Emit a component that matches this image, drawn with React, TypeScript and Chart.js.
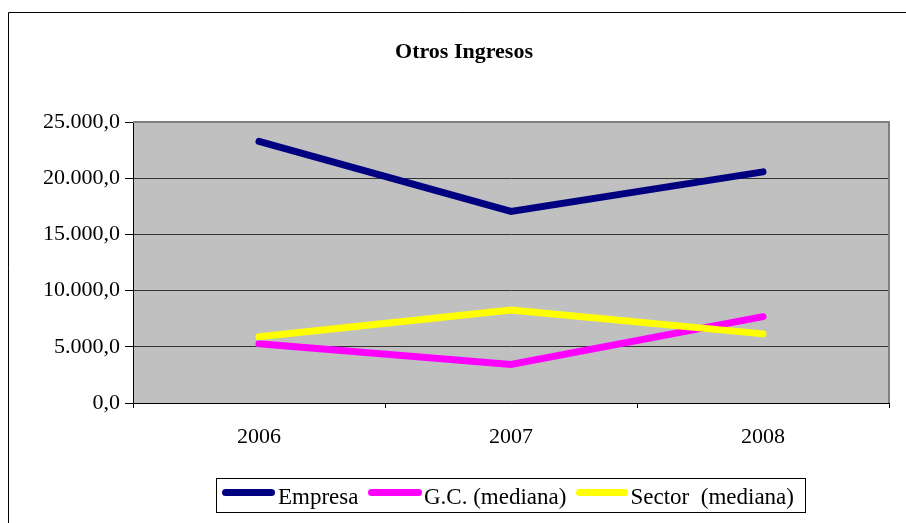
import React, { useEffect, useRef } from "react";
import { Chart, registerables } from "chart.js";

Chart.register(...registerables);

const categories = ["2006", "2007", "2008"];
const empresa = [23270, 17050, 20560];
const gcMediana = [5270, 3420, 7680];
const sectorMediana = [5890, 8270, 6150];
const seriesNames = ["Empresa", "G.C. (mediana)", "Sector  (mediana)"];
const seriesColors = ["#000080", "#FF00FF", "#FFFF00"];
const yTicks = [0, 5000, 10000, 15000, 20000, 25000];
const titleText = "Otros Ingresos";

const SERIF = "'Liberation Serif', 'Times New Roman', serif";

function fmt(v: number): string {
  const neg = v < 0;
  const s = Math.round(Math.abs(v)).toString();
  const parts: string[] = [];
  for (let i = s.length; i > 0; i -= 3) parts.unshift(s.slice(Math.max(0, i - 3), i));
  return (neg ? "-" : "") + parts.join(".") + ",0";
}

const framePlugin = {
  id: "framePlugin",
  beforeDraw(chart: any) {
    const { ctx, chartArea } = chart;
    ctx.save();
    ctx.fillStyle = "#FFFFFF";
    ctx.fillRect(0, 0, chart.width, chart.height);
    // outer border
    ctx.strokeStyle = "#000000";
    ctx.lineWidth = 1;
    ctx.beginPath();
    ctx.moveTo(8.5, chart.height + 2);
    ctx.lineTo(8.5, 12.5);
    ctx.lineTo(chart.width + 2, 12.5);
    ctx.stroke();
    // plot background
    ctx.fillStyle = "#C0C0C0";
    ctx.fillRect(chartArea.left, chartArea.top, chartArea.right - chartArea.left, chartArea.bottom - chartArea.top);
    // title
    ctx.fillStyle = "#000000";
    ctx.font = "bold 22px " + SERIF;
    ctx.textAlign = "center";
    ctx.textBaseline = "middle";
    ctx.fillText(titleText, 464, 52);
    ctx.restore();
  },
  beforeDatasetsDraw(chart: any) {
    const { ctx, chartArea } = chart;
    ctx.save();
    ctx.strokeStyle = "#808080";
    ctx.lineWidth = 2;
    ctx.beginPath();
    ctx.moveTo(chartArea.left, chartArea.top);
    ctx.lineTo(chartArea.right, chartArea.top);
    ctx.lineTo(chartArea.right, chartArea.bottom);
    ctx.stroke();
    ctx.restore();
  },
  afterDraw(chart: any) {
    const { ctx } = chart;
    ctx.save();
    ctx.strokeStyle = "#000000";
    ctx.lineWidth = 1;
    ctx.strokeRect(216.5, 478.5, 589, 34);
    const items = [
      { x1: 222, x2: 275, tx: 278 },
      { x1: 368, x2: 422, tx: 424 },
      { x1: 576, x2: 628, tx: 630.5 },
    ];
    ctx.font = "23px " + SERIF;
    ctx.textAlign = "left";
    ctx.textBaseline = "alphabetic";
    chart.data.datasets.forEach((ds: any, i: number) => {
      const it = items[i];
      ctx.strokeStyle = ds.borderColor;
      ctx.lineWidth = 7;
      ctx.lineCap = "round";
      ctx.beginPath();
      ctx.moveTo(it.x1 + 3.5, 492.5);
      ctx.lineTo(it.x2 - 3.5, 492.5);
      ctx.stroke();
      ctx.fillStyle = "#000000";
      ctx.fillText(ds.label, it.tx, 504);
    });
    ctx.restore();
  },
};

export default function App() {
  const canvasRef = useRef<HTMLCanvasElement | null>(null);

  useEffect(() => {
    if (!canvasRef.current) return;
    const seriesData = [empresa, gcMediana, sectorMediana];
    const chart = new Chart(canvasRef.current, {
      type: "line",
      data: {
        labels: categories,
        datasets: seriesData.map((d, i) => ({
          label: seriesNames[i],
          data: d,
          borderColor: seriesColors[i],
          backgroundColor: seriesColors[i],
          borderWidth: 7,
          borderCapStyle: "round" as const,
          borderJoinStyle: "miter" as const,
          pointRadius: 0,
          pointHoverRadius: 0,
          tension: 0,
          fill: false,
          order: 3 - i,
        })),
      },
      options: {
        animation: false,
        responsive: false,
        maintainAspectRatio: false,
        layout: { padding: { left: 0, right: 17, top: 122, bottom: 60 } },
        plugins: {
          legend: { display: false },
          title: { display: false },
          tooltip: { enabled: false },
        },
        scales: {
          x: {
            type: "category",
            offset: true,
            afterFit(scale: any) {
              scale.height = 60;
            },
            grid: {
              offset: true,
              drawOnChartArea: false,
              drawTicks: true,
              tickLength: 5,
              color: "#000000",
            },
            border: { display: true, color: "#000000", width: 1 },
            ticks: {
              color: "#000000",
              font: { family: SERIF, size: 22 },
              padding: 16,
              maxRotation: 0,
            },
          },
          y: {
            min: 0,
            max: 25000,
            afterFit(scale: any) {
              scale.width = 133;
            },
            afterBuildTicks(scale: any) {
              scale.ticks = yTicks.map((v) => ({ value: v }));
            },
            grid: {
              color: "#333333",
              tickColor: "#000000",
              tickLength: 8,
              drawTicks: true,
            },
            border: { display: true, color: "#000000", width: 1 },
            ticks: {
              color: "#000000",
              font: { family: SERIF, size: 22 },
              padding: 5,
              callback: (v: any) => fmt(Number(v)),
            },
          },
        },
      },
      plugins: [framePlugin],
    });
    return () => chart.destroy();
  }, []);

  return (
    <div style={{ position: "fixed", left: 0, top: 0, width: 906, height: 523 }}>
      <canvas ref={canvasRef} width={906} height={523} style={{ width: 906, height: 523, display: "block" }} />
    </div>
  );
}
